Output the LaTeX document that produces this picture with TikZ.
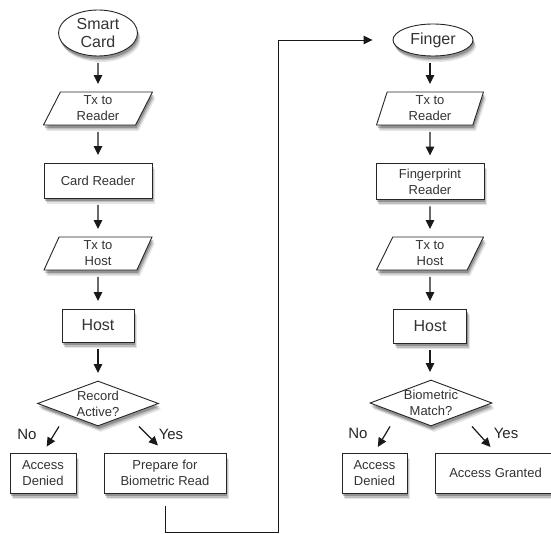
\documentclass[tikz,border=0pt]{standalone}
\usepackage{fontspec}
\setmainfont{Liberation Sans}
\usetikzlibrary{shapes.geometric,arrows.meta,shadows}

\begin{document}
\begin{tikzpicture}[x=1pt,y=-1pt,
 shd/.style={drop shadow={shadow xshift=3pt,shadow yshift=-6pt,opacity=.10,fill=black},
             drop shadow={shadow xshift=2pt,shadow yshift=-4.5pt,opacity=.16,fill=black},
             drop shadow={shadow xshift=1pt,shadow yshift=-3pt,opacity=.24,fill=black}},
 base/.style={draw=black!85, line width=0.9pt, fill=white, inner sep=0pt, align=center,
   font=\fontsize{13}{16}\selectfont, text=black!80, shd},
 term/.style={base, ellipse, font=\fontsize{16}{18}\selectfont},
 proc/.style={base, rectangle},
 io/.style={base, trapezium, trapezium stretches body, minimum height=33pt},
 dec/.style={base, diamond},
 dtext/.style={align=center, font=\fontsize{13}{16}\selectfont, text=black!80},
 arr/.style={-{Triangle[length=9pt,width=8.5pt]}, line width=1.2pt, draw=black!90, shorten <=6.5pt, shorten >=7.5pt},
 lab/.style={font=\fontsize{15}{18}\selectfont, text=black!85}
]
\useasboundingbox (0,0) rectangle (551,534);

% left column
\node[term, minimum width=79pt, minimum height=46pt] (sc) at (98,33) {Smart\\Card};
\node[io, trapezium left angle=56, trapezium right angle=124, minimum width=109pt] (t1) at (98,108.5) {Tx to\\Reader};
\node[proc, minimum width=108pt, minimum height=35pt] (cr) at (98,180.5) {Card Reader};
\node[io, trapezium left angle=59, trapezium right angle=121, minimum width=108pt] (t2) at (98,253.5) {Tx to\\Host};
\node[proc, font=\fontsize{16}{18}\selectfont, minimum width=72pt, minimum height=33pt] (h1) at (98,325.5) {Host};
\node[dec, minimum width=121pt, minimum height=45pt, label={[dtext]center:Record\\Active?}] (d1) at (98,403.5) {};
\node[proc, minimum width=66pt, minimum height=40pt] (ad1) at (43,473) {Access\\Denied};
\node[proc, minimum width=122pt, minimum height=40pt] (pr) at (165,473) {Prepare for\\Biometric Read};

% right column
\node[term, minimum width=80pt, minimum height=32pt] (fi) at (433,40) {Finger};
\node[io, trapezium left angle=67, trapezium right angle=113, minimum width=107pt] (t3) at (430,108.5) {Tx to\\Reader};
\node[proc, minimum width=108pt, minimum height=36pt] (fr) at (430,181.5) {Fingerprint\\Reader};
\node[io, trapezium left angle=57, trapezium right angle=123, minimum width=107pt] (t4) at (430,253.5) {Tx to\\Host};
\node[proc, font=\fontsize{16}{18}\selectfont, minimum width=73pt, minimum height=34pt] (h2) at (430,326) {Host};
\node[dec, minimum width=122pt, minimum height=46pt, label={[dtext]center:Biometric\\Match?}] (d2) at (431,403) {};
\node[proc, minimum width=65pt, minimum height=40pt] (ad2) at (374.5,473) {Access\\Denied};
\node[proc, minimum width=121pt, minimum height=40pt] (ag) at (495.5,473) {Access Granted};

% labels
\node[lab] (no1) at (27,434) {No};
\node[lab] (yes1) at (171,434) {Yes};
\node[lab] (no2) at (358,433) {No};
\node[lab] (yes2) at (506,433) {Yes};

% left arrows
\draw[arr] (sc.south) -- (t1.north);
\draw[arr] (t1.south) -- (cr.north);
\draw[arr] (cr.south) -- (t2.north);
\draw[arr] (t2.south) -- (h1.north);
\draw[arr] (h1.south) -- (d1.north);
\draw[arr, shorten <=0pt, shorten >=7pt] ([xshift=-39pt]d1.south) -- (ad1.north);
\draw[arr, shorten <=0pt, shorten >=10pt] ([xshift=41pt]d1.south) -- (pr.north);

% right arrows
\draw[arr] (fi.south -| t3.north) -- (t3.north);
\draw[arr] (t3.south) -- (fr.north);
\draw[arr] (fr.south) -- (t4.north);
\draw[arr] (t4.south) -- (h2.north);
\draw[arr] (h2.south) -- (h2.south |- d2.north);
\draw[arr, shorten <=0pt, shorten >=6.5pt] ([xshift=-41pt]d2.south) -- (ad2.north);
\draw[arr, shorten <=0pt, shorten >=7.5pt] ([xshift=41pt]d2.south) -- (ag.north);

% long connector
\coordinate (lc) at (278,532);
\draw[arr, line width=0.9pt, shorten <=13pt, shorten >=20pt] (pr.south) |- (lc) |- (fi.west);
\end{tikzpicture}
\end{document}
